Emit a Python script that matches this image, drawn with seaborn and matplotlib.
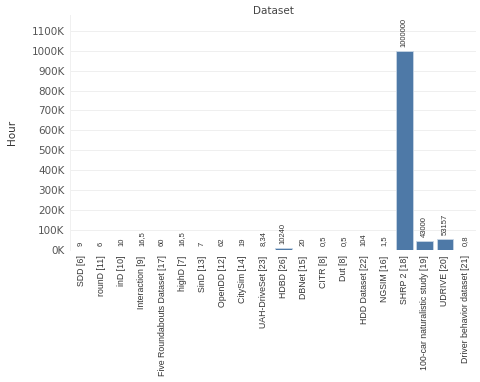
import matplotlib
matplotlib.use("Agg")
import matplotlib.pyplot as plt
import seaborn as sns
import pandas as pd

categories = ["SDD [6]", "rounD [11]", "inD [10]", "Interaction [9]",
              "Five Roundabouts Dataset [17]", "highD [7]", "SinD [13]", "OpenDD [12]",
              "CitySim [14]", "UAH-DriveSet [23]", "HDBD [26]", "DBNet [15]", "CITR [8]",
              "Dut [8]", "HDD Dataset [22]", "NGSIM [16]", "SHRP 2 [18]",
              "100-car naturalistic study [19]", "UDRIVE [20]", "Driver behavior dataset [21]"]
hours = [9, 6, 10, 16.5, 60, 16.5, 7, 62, 19, 8.34, 10240, 20, 0.5, 0.5, 104, 1.5,
         1000000, 43000, 53157, 0.8]
value_labels = ["9", "6", "10", "16,5", "60", "16,5", "7", "62", "19", "8,34", "10240",
                "20", "0,5", "0,5", "104", "1,5", "1000000", "43000", "53157", "0,8"]
yticks = list(range(0, 1100001, 100000))
ytick_labels = [f"{v // 1000}K" for v in yticks]

sns.set_theme(style="white")
plt.rcParams['font.family'] = ['DejaVu Sans']

df = pd.DataFrame({"Dataset": categories, "Hour": hours})

fig = plt.figure(figsize=(4.8, 3.82), dpi=100)
ax = fig.add_axes([0.146, 0.346, 0.846, 0.615])

sns.barplot(data=df, x="Dataset", y="Hour", color="#4e79a7", saturation=1,
            width=0.82, edgecolor="#c8d6e5", linewidth=0.6, ax=ax)

ax.set_ylim(0, 1180000)
ax.set_xlim(-0.55, len(categories) - 0.45)
ax.set_yticks(yticks)
ax.set_yticklabels(ytick_labels, fontsize=7.5, color="#555555")
ax.yaxis.grid(True, color="#efefef", linewidth=0.7)
ax.set_axisbelow(True)
for s in ["top", "right", "bottom"]:
    ax.spines[s].set_visible(False)
ax.spines["left"].set_color("#f0f0f0")
ax.spines["left"].set_linewidth(0.7)
ax.tick_params(axis="both", length=0, pad=4)

ax.set_xticks(range(len(categories)))
ax.set_xticklabels(categories, rotation=90, fontsize=6.3, color="#333333",
                   fontfamily="Liberation Sans")
ax.set_xlabel("")
ax.set_ylabel("Hour", fontsize=7.5, color="#333333")
ax.yaxis.set_label_coords(-0.13, 0.5)
fig.text(0.569, 1 - 11 / 382, "Dataset", ha="center", va="center",
         fontsize=7.5, color="#444444")

for i, (v, lab) in enumerate(zip(hours, value_labels)):
    ax.annotate(lab, (i, v), xytext=(0, 3), textcoords="offset points",
                rotation=90, ha="center", va="bottom", fontsize=5.5,
                color="#333333", fontfamily="Liberation Sans")

fig.savefig("out.png", dpi=100)
